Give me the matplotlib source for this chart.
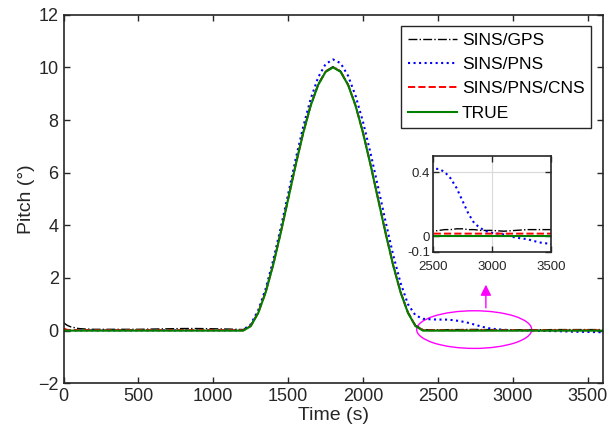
import numpy as np
import matplotlib
matplotlib.use("Agg")
import matplotlib.pyplot as plt
from matplotlib.patches import Ellipse

plt.rcParams['font.family'] = ['Liberation Sans', 'DejaVu Sans']

# time samples (s)
time = [0, 25, 50, 100, 150, 200, 300, 400, 500, 600, 700, 800, 900, 1000, 1100, 1150,
        1200, 1250, 1300, 1350, 1400, 1450, 1500, 1550, 1600, 1650, 1700, 1750, 1800,
        1850, 1900, 1950, 2000, 2050, 2100, 2150, 2200, 2250, 2300, 2350, 2400,
        2450, 2500, 2550, 2600, 2650, 2700, 2750, 2800, 2850, 2900, 2950,
        3000, 3100, 3200, 3300, 3400, 3500, 3600]

pitch_true = [0] * 16 + [
    0, 0.17, 0.67, 1.46, 2.5, 3.71, 5.0, 6.29, 7.5, 8.54, 9.33, 9.83, 10.0,
    9.83, 9.33, 8.54, 7.5, 6.29, 5.0, 3.71, 2.5, 1.46, 0.67, 0.17, 0] + [0] * 18

pitch_gps = [0.3, 0.2, 0.14, 0.08, 0.06, 0.05, 0.05, 0.05, 0.05, 0.06, 0.07, 0.08, 0.08, 0.07, 0.06, 0.05,
             0.04, 0.2, 0.7, 1.49, 2.53, 3.74, 5.03, 6.32, 7.53, 8.57, 9.36, 9.86, 10.03,
             9.86, 9.36, 8.57, 7.53, 6.32, 5.03, 3.74, 2.53, 1.49, 0.7, 0.2, 0.04,
             0.03, 0.03, 0.035, 0.04, 0.04, 0.045, 0.045, 0.04, 0.04, 0.035, 0.035,
             0.035, 0.03, 0.035, 0.04, 0.04, 0.04, 0.04]

pitch_pns = [0.01] * 16 + [
    0.03, 0.24, 0.78, 1.6, 2.68, 3.9, 5.2, 6.52, 7.74, 8.8, 9.62, 10.13, 10.3,
    10.16, 9.68, 8.92, 7.92, 6.74, 5.46, 4.15, 2.9, 1.82, 1.0, 0.58, 0.45,
    0.43, 0.42, 0.42, 0.40, 0.36, 0.30, 0.22, 0.14, 0.08, 0.05, 0.03,
    0.02, 0.01, -0.01, -0.02, -0.04, -0.05, -0.06]

pitch_cns = [0.08, 0.03] + [0.02] * 14 + [
    0.01, 0.18, 0.68, 1.47, 2.51, 3.72, 5.01, 6.3, 7.51, 8.55, 9.34, 9.84, 10.01,
    9.84, 9.34, 8.55, 7.51, 6.3, 5.01, 3.72, 2.51, 1.47, 0.68, 0.18, 0.02] + [0.015] * 18

labels = ['SINS/GPS', 'SINS/PNS', 'SINS/PNS/CNS', 'TRUE']
gray = '#262626'

def draw(ax, lw=1.0):
    ax.plot(time, pitch_gps, color='k', ls='-.', lw=lw, label=labels[0])
    ax.plot(time, pitch_pns, color='b', ls=':', lw=lw * 1.5, label=labels[1])
    ax.plot(time, pitch_cns, color='r', ls='--', lw=lw * 1.4, label=labels[2])
    ax.plot(time, pitch_true, color=(0, 0.5, 0), ls='-', lw=lw * 1.5, label=labels[3])

def style(ax, fs):
    for s in ax.spines.values():
        s.set_color(gray)
        s.set_linewidth(1.2)
    ax.tick_params(direction='in', top=True, right=True, labelsize=fs,
                   colors=gray, width=1.0, length=4)

fig = plt.figure(figsize=(6.11, 4.46), dpi=100)
ax = fig.add_axes([0.104, 0.1406, 0.8824, 0.8264])
draw(ax)
ax.set_xlim(0, 3600)
ax.set_ylim(-2, 12)
ax.set_xticks(range(0, 3600, 500))
ax.set_yticks(range(-2, 13, 2))
style(ax, 13)
ax.set_xlabel('Time (s)', fontsize=14, color=gray, labelpad=1)
ax.set_ylabel('Pitch (°)', fontsize=14, color=gray, labelpad=2)

leg = ax.legend(loc='upper right', fontsize=12.5, fancybox=False, framealpha=1,
                edgecolor=gray, handlelength=2.8, borderaxespad=0.65,
                labelspacing=0.52, handletextpad=0.3, borderpad=0.4)
leg.get_frame().set_linewidth(1.0)

ax.add_patch(Ellipse((2742, 0.04), 768, 1.43, fill=False, edgecolor='magenta', lw=1.0))
ax.annotate('', xy=(2820, 1.85), xytext=(2820, 0.76),
            arrowprops=dict(arrowstyle='-|>', color='magenta', lw=1.0,
                            mutation_scale=16))

ins = fig.add_axes([0.7087, 0.435, 0.193, 0.215])
draw(ins, lw=1.0)
ins.set_xlim(2500, 3500)
ins.set_ylim(-0.1, 0.5)
ins.set_xticks([2500, 3000, 3500])
ins.set_yticks([-0.1, 0, 0.4])
ins.set_yticklabels(['-0.1', '0', '0.4'])
ins.grid(True, color='#d9d9d9', lw=0.8)
style(ins, 9.5)
ins.tick_params(axis='x', pad=6.5)
ins.tick_params(axis='y', pad=2)

fig.savefig('out.png', dpi=100)
